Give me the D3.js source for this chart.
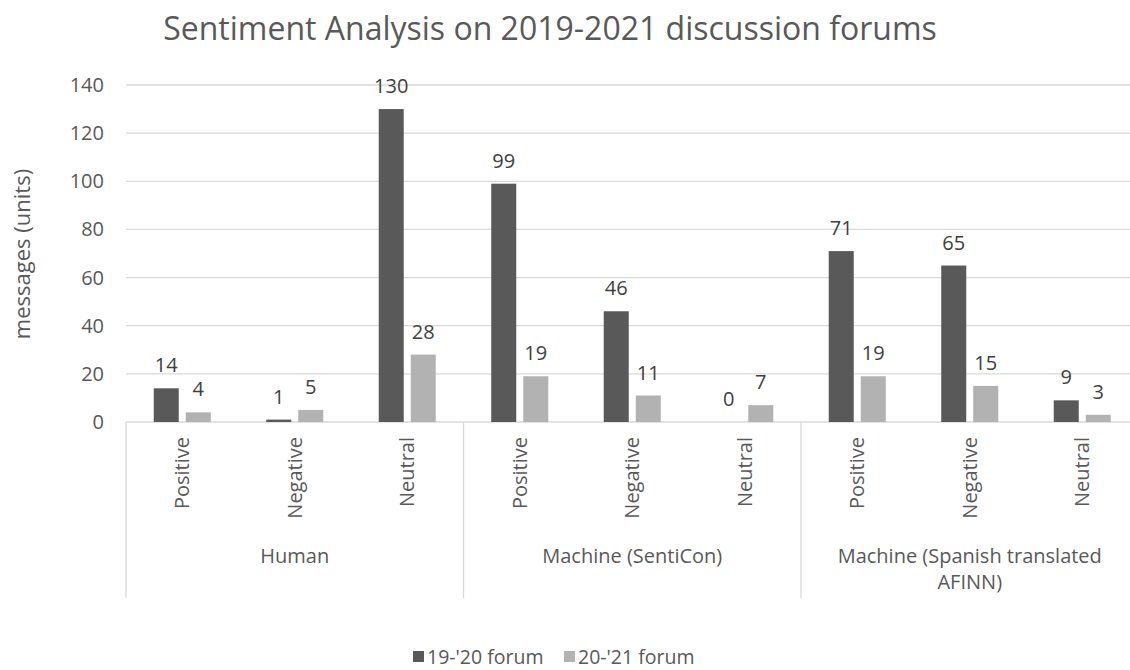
<!DOCTYPE html>
<html>
<head>
<meta charset="utf-8">
<script src="https://cdn.jsdelivr.net/npm/d3@7"></script>
<style>
body{margin:0;background:#fff;}
text{font-family:"Open Sans","Noto Sans",sans-serif;fill:#595959;}
</style>
</head>
<body>
<svg></svg>
<script>
var groups=["Human","Machine (SentiCon)","Machine (Spanish translated AFINN)"]
var groupLines=[["Human"],["Machine (SentiCon)"],["Machine (Spanish translated","AFINN)"]]
var sentiments=["Positive","Negative","Neutral"]
var seriesNames=["19-'20 forum","20-'21 forum"]
var forum1920=[14,1,130,99,46,0,71,65,9]
var forum2021=[4,5,28,19,11,7,19,15,3]
var yTicks=[0,20,40,60,80,100,120,140]
var colors=["#595959","#b2b2b2"]

var width=1130, height=670
var svg=d3.select("svg").attr("width",width).attr("height",height)

var plot={left:126,right:1138.5,top:85,bottom:422}

// one slot per group/sentiment pair
var slots=[]
groups.forEach(function(g,gi){
  sentiments.forEach(function(s,si){
    var i=gi*3+si
    slots.push({key:g+"|"+s,group:g,sentiment:s,values:[forum1920[i],forum2021[i]]})
  })
})

var x0=d3.scaleBand()
  .domain(slots.map(function(d){return d.key}))
  .range([plot.left,plot.right])
  .paddingInner(0.493)
  .paddingOuter(0.2465)
var x1=d3.scaleBand()
  .domain([0,1])
  .range([0,x0.bandwidth()])
  .paddingInner(0.219)
var xg=d3.scaleBand().domain(groups).range([plot.left,plot.right])
var y=d3.scaleLinear().domain([0,140]).range([plot.bottom,plot.top])

// title
svg.append("text")
  .attr("x",550).attr("y",40)
  .attr("text-anchor","middle")
  .style("font-size","32px")
  .text("Sentiment Analysis on 2019-2021 discussion forums")

// gridlines
svg.append("g").selectAll("line")
  .data(yTicks)
  .enter().append("line")
  .attr("x1",plot.left).attr("x2",width)
  .attr("y1",function(d){return y(d)}).attr("y2",function(d){return y(d)})
  .attr("stroke","#d9d9d9").attr("stroke-width",1.3)

// y tick labels
svg.append("g").selectAll("text")
  .data(yTicks)
  .enter().append("text")
  .attr("x",104).attr("y",function(d){return y(d)})
  .attr("dy","0.35em")
  .attr("text-anchor","end")
  .style("font-size","20px")
  .text(function(d){return d})

// y axis title
svg.append("text")
  .attr("transform","translate(22,"+254+") rotate(-90)")
  .attr("text-anchor","middle")
  .attr("dy","0.35em")
  .style("font-size","22px")
  .text("messages (units)")

// bars
var slotG=svg.append("g").selectAll("g")
  .data(slots)
  .enter().append("g")
  .attr("transform",function(d){return "translate("+x0(d.key)+",0)"})

slotG.selectAll("rect")
  .data(function(d){return d.values})
  .enter().append("rect")
  .attr("x",function(d,i){return x1(i)})
  .attr("width",x1.bandwidth())
  .attr("y",function(d){return y(d)})
  .attr("height",function(d){return y(0)-y(d)})
  .attr("fill",function(d,i){return colors[i]})

slotG.selectAll("text.val")
  .data(function(d){return d.values})
  .enter().append("text")
  .attr("class","val")
  .attr("x",function(d,i){return x1(i)+x1.bandwidth()/2})
  .attr("y",function(d){return y(d)-16})
  .attr("text-anchor","middle")
  .style("font-size","20px")
  .style("fill","#404040")
  .text(function(d){return d})

// category labels
svg.append("g").selectAll("text")
  .data(slots)
  .enter().append("text")
  .attr("transform",function(d){return "translate("+(x0(d.key)+x0.bandwidth()/2)+",437) rotate(-90)"})
  .attr("text-anchor","end")
  .attr("dy","0.35em")
  .style("font-size","20px")
  .text(function(d){return d.sentiment})

// group separators
var seps=groups.map(function(g){return xg(g)}).concat([plot.right])
svg.append("g").selectAll("line")
  .data(seps)
  .enter().append("line")
  .attr("x1",function(d){return d}).attr("x2",function(d){return d})
  .attr("y1",plot.bottom).attr("y2",598)
  .attr("stroke","#d9d9d9").attr("stroke-width",1.3)

// group labels
groups.forEach(function(g,gi){
  var t=svg.append("text")
    .attr("x",xg(g)+xg.bandwidth()/2)
    .attr("y",563)
    .attr("text-anchor","middle")
    .style("font-size","20px")
  groupLines[gi].forEach(function(line,li){
    t.append("tspan")
      .attr("x",xg(g)+xg.bandwidth()/2)
      .attr("dy",li==0?0:26)
      .text(line)
  })
})

// legend
var legend=svg.append("g")
var legX=[413,564]
seriesNames.forEach(function(n,i){
  legend.append("rect")
    .attr("x",legX[i]).attr("y",651)
    .attr("width",11).attr("height",11)
    .attr("fill",colors[i])
  legend.append("text")
    .attr("x",legX[i]+14).attr("y",657)
    .attr("dy","0.35em")
    .style("font-size","19.5px")
    .text(n)
})
</script>
</body>
</html>
